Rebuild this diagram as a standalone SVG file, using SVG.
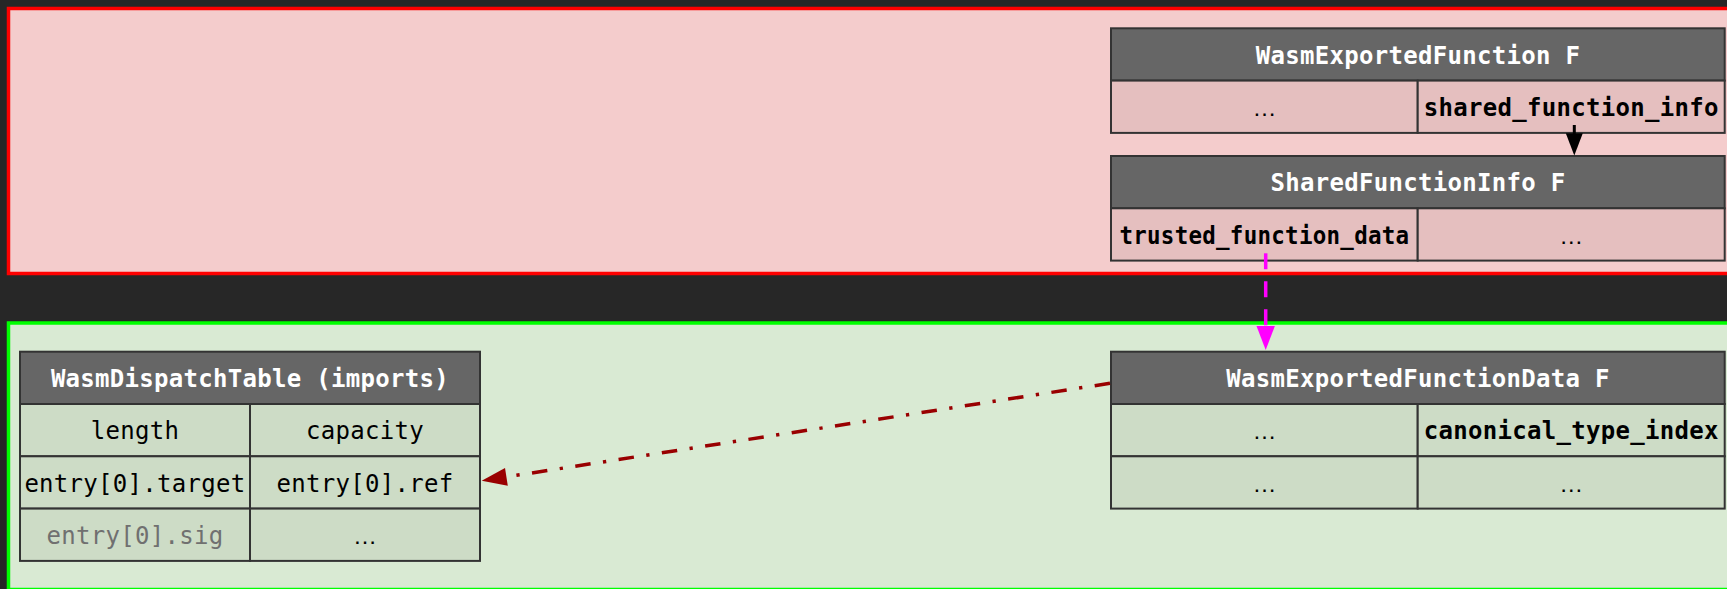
<svg xmlns="http://www.w3.org/2000/svg" width="1727" height="589" viewBox="0 0 1727 589">
  <style>
    .bg { fill: #272727; }
    .clusterRed { fill: #f4cccc; stroke: #ff0000; stroke-width: 3.5; }
    .clusterGreen { fill: #d9ead3; stroke: #00ff00; stroke-width: 3.5; }
    .hdr { fill: #666666; stroke: #333333; stroke-width: 2; }
    .cellR { fill: #e5bfbf; stroke: #333333; stroke-width: 2; }
    .cellG { fill: #cddcc6; stroke: #333333; stroke-width: 2; }
    text { font-family: "DejaVu Sans Mono", "Liberation Mono", monospace; font-size: 24px; text-anchor: middle; letter-spacing: 0.3px; }
    .ht { fill: #ffffff; font-weight: bold; }
    .ct { fill: #000000; }
    .el { fill: #000000; font-family: "Liberation Sans", "DejaVu Sans", sans-serif; letter-spacing: 0; }
    .bt { fill: #000000; font-weight: bold; }
    .gt { fill: #707070; }
    .edgeBlack { stroke: #000000; stroke-width: 3; fill: none; }
    .edgeMagenta { stroke: #ff00ff; stroke-width: 3.5; fill: none; stroke-dasharray: 16 12; }
    .edgeRed { stroke: #990000; stroke-width: 3.5; fill: none; stroke-dasharray: 15.5 12.5 3.3 12.5; }
  </style>

  <rect class="bg" x="0" y="0" width="1727" height="589"/>

  <!-- clusters -->
  <g id="cluster_trusted">
    <rect class="clusterRed" x="8.5" y="8.5" width="1800" height="265"/>
  </g>
  <g id="cluster_untrusted">
    <rect class="clusterGreen" x="8.5" y="323" width="1800" height="266.5"/>
  </g>

  <!-- WasmExportedFunction -->
  <g id="wasm_exported_function">
    <rect class="hdr" x="1111" y="28.3" width="613.7" height="52.3"/>
    <rect class="cellR" x="1111" y="80.6" width="306.7" height="52.3"/>
    <rect class="cellR" x="1417.7" y="80.6" width="307" height="52.3"/>
    <text class="ht" x="1417.9" y="63.5">WasmExportedFunction F</text>
    <text class="el" x="1264.4" y="115.8">…</text>
    <text class="bt" x="1571.2" y="115.8">shared_function_info</text>
  </g>

  <!-- SharedFunctionInfo -->
  <g id="shared_function_info">
    <rect class="hdr" x="1111" y="156" width="613.7" height="52.3"/>
    <rect class="cellR" x="1111" y="208.3" width="306.7" height="52.3"/>
    <rect class="cellR" x="1417.7" y="208.3" width="307" height="52.3"/>
    <text class="ht" x="1417.9" y="191.2">SharedFunctionInfo F</text>
    <text class="bt" x="1264.4" y="243.5" textLength="290" lengthAdjust="spacingAndGlyphs">trusted_function_data</text>
    <text class="el" x="1571.2" y="243.5">…</text>
  </g>

  <!-- WasmExportedFunctionData -->
  <g id="wasm_exported_function_data">
    <rect class="hdr" x="1111" y="351.7" width="613.7" height="52.3"/>
    <rect class="cellG" x="1111" y="404" width="306.7" height="52.3"/>
    <rect class="cellG" x="1417.7" y="404" width="307" height="52.3"/>
    <rect class="cellG" x="1111" y="456.3" width="306.7" height="52.3"/>
    <rect class="cellG" x="1417.7" y="456.3" width="307" height="52.3"/>
    <text class="ht" x="1417.9" y="386.9">WasmExportedFunctionData F</text>
    <text class="el" x="1264.4" y="439.2">…</text>
    <text class="bt" x="1571.2" y="439.2">canonical_type_index</text>
    <text class="el" x="1264.4" y="491.5">…</text>
    <text class="el" x="1571.2" y="491.5">…</text>
  </g>

  <!-- WasmDispatchTable (imports) -->
  <g id="wasm_dispatch_table">
    <rect class="hdr" x="20" y="351.7" width="460" height="52.3"/>
    <rect class="cellG" x="20" y="404" width="230" height="52.3"/>
    <rect class="cellG" x="250" y="404" width="230" height="52.3"/>
    <rect class="cellG" x="20" y="456.3" width="230" height="52.3"/>
    <rect class="cellG" x="250" y="456.3" width="230" height="52.3"/>
    <rect class="cellG" x="20" y="508.6" width="230" height="52.3"/>
    <rect class="cellG" x="250" y="508.6" width="230" height="52.3"/>
    <text class="ht" x="250" y="386.9">WasmDispatchTable (imports)</text>
    <text class="ct" x="135" y="439.2">length</text>
    <text class="ct" x="365" y="439.2">capacity</text>
    <text class="ct" x="135" y="491.5">entry[0].target</text>
    <text class="ct" x="365" y="491.5">entry[0].ref</text>
    <text class="gt" x="135" y="543.8">entry[0].sig</text>
    <text class="el" x="365" y="543.8">…</text>
  </g>

  <!-- connectors -->
  <g id="connectors">
    <g id="edge_sfi">
      <path class="edgeBlack" d="M1574.3,125 L1574.3,134"/>
      <polygon fill="#000000" points="1565.8,133.3 1582.8,133.3 1574.3,155.5"/>
    </g>
    <g id="edge_function_data">
      <path class="edgeMagenta" d="M1265.7,253.3 L1265.7,326"/>
      <polygon fill="#ff00ff" points="1256.5,326 1274.9,326 1265.7,350"/>
    </g>
    <g id="edge_ref">
      <path class="edgeRed" d="M1110,383.3 L506.4,476.9"/>
      <polygon fill="#990000" points="507.8,485.8 505,468 481.7,480.7"/>
    </g>
  </g>
</svg>
